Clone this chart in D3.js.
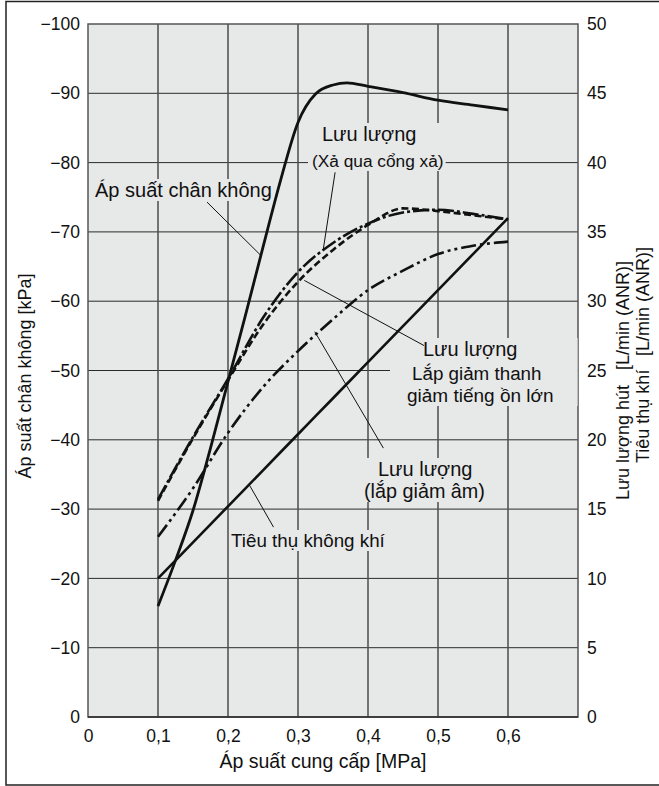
<!DOCTYPE html>
<html>
<head>
<meta charset="utf-8">
<script src="https://cdn.jsdelivr.net/npm/d3@7"></script>
<style>
  html, body { margin: 0; padding: 0; background: #fff; }
  svg { display: block; font-family: "Liberation Sans", Arial, Helvetica, sans-serif; }
  text { fill: #111; }
</style>
</head>
<body>
<svg id="chart" width="659" height="786"></svg>
<script>
// Supply pressure [MPa] at which the flow / consumption series are read
const supplyPressure = [0.1, 0.15, 0.2, 0.25, 0.3, 0.35, 0.4, 0.45, 0.5, 0.55, 0.6];

// Suction flow, exhausting through the exhaust port [L/min (ANR)]
const flowExhaustPort = [15.7, 20.2, 24.4, 28.8, 32.1, 34.2, 35.6, 36.4, 36.6, 36.3, 35.9];
// Suction flow with a high-noise-reduction silencer [L/min (ANR)]
const flowBigSilencer = [15.6, 20.1, 24.3, 28.3, 31.4, 33.7, 35.5, 36.7, 36.5, 36.2, 35.9];
// Suction flow with a silencer [L/min (ANR)]
const flowSilencer = [13.0, 16.5, 20.5, 23.8, 26.4, 28.7, 30.8, 32.2, 33.4, 34.0, 34.3];
// Air consumption [L/min (ANR)]
const airConsumption = [10.0, 12.6, 15.2, 17.8, 20.4, 23.0, 25.6, 28.2, 30.8, 33.4, 36.0];

// Vacuum pressure [kPa] is read on a finer pressure grid
const vacuumPressureX = [0.1, 0.125, 0.15, 0.175, 0.2, 0.225, 0.25, 0.275, 0.3, 0.325, 0.35, 0.37, 0.4, 0.45, 0.5, 0.55, 0.6];
const vacuumPressure = [-16, -22.6, -29.8, -38.8, -48.4, -58, -67.8, -77.4, -85.8, -89.9, -91.2, -91.5, -91, -90.1, -89, -88.3, -87.6];

// Axis ticks
const xTicks = [0, 0.1, 0.2, 0.3, 0.4, 0.5, 0.6];
const xGrid = [0.1, 0.2, 0.3, 0.4, 0.5, 0.6];
const leftTicks = [0, -10, -20, -30, -40, -50, -60, -70, -80, -90, -100];
const rightTicks = [0, 5, 10, 15, 20, 25, 30, 35, 40, 45, 50];

const svg = d3.select("#chart");
const plot = { left: 88, right: 578, top: 24, bottom: 717 };
const plotBg = "#e7e8e8";

const x = d3.scaleLinear().domain([0, 0.7]).range([plot.left, plot.right]);
const yL = d3.scaleLinear().domain([0, -100]).range([plot.bottom, plot.top]);
const yR = d3.scaleLinear().domain([0, 50]).range([plot.bottom, plot.top]);

// Outer frame (open on the right)
svg.append("path")
  .attr("d", "M 700 1.5 H 6 V 785 H 700")
  .attr("fill", "none").attr("stroke", "#222").attr("stroke-width", 1.5);

// Plot background
svg.append("rect")
  .attr("x", plot.left).attr("y", plot.top)
  .attr("width", plot.right - plot.left).attr("height", plot.bottom - plot.top)
  .attr("fill", plotBg);

const gridLayer = svg.append("g");
const boxLayer = svg.append("g");
const curveLayer = svg.append("g");
const leaderLayer = svg.append("g");
const textLayer = svg.append("g");

// Grid
gridLayer.selectAll("line.h").data(leftTicks.filter(d => d !== 0 && d !== -100)).join("line")
  .attr("x1", plot.left).attr("x2", plot.right)
  .attr("y1", d => yL(d)).attr("y2", d => yL(d))
  .attr("stroke", "#2b2b2b").attr("stroke-width", 1);
gridLayer.selectAll("line.v").data(xGrid).join("line")
  .attr("x1", d => x(d)).attr("x2", d => x(d))
  .attr("y1", plot.top).attr("y2", plot.bottom)
  .attr("stroke", "#4d4d4d").attr("stroke-width", 1.5);
gridLayer.append("rect")
  .attr("x", plot.left).attr("y", plot.top)
  .attr("width", plot.right - plot.left).attr("height", plot.bottom - plot.top)
  .attr("fill", "none").attr("stroke", "#555").attr("stroke-width", 1.5);
gridLayer.append("line")
  .attr("x1", plot.left).attr("x2", plot.right)
  .attr("y1", plot.bottom).attr("y2", plot.bottom)
  .attr("stroke", "#2b2b2b").attr("stroke-width", 1.3);

// Axes (labels only)
const tickFont = 17.5;
const minus = "\u2212";
const leftAxis = svg.append("g").attr("transform", `translate(${plot.left},0)`)
  .call(d3.axisLeft(yL).tickValues(leftTicks).tickSize(0).tickPadding(8)
    .tickFormat(d => d === 0 ? "0" : minus + Math.abs(d)));
const rightAxis = svg.append("g").attr("transform", `translate(${plot.right},0)`)
  .call(d3.axisRight(yR).tickValues(rightTicks).tickSize(0).tickPadding(9));
const bottomAxis = svg.append("g").attr("transform", `translate(0,${plot.bottom})`)
  .call(d3.axisBottom(x).tickValues(xTicks).tickSize(0).tickPadding(13)
    .tickFormat(d => d === 0 ? "0" : d.toFixed(1).replace(".", ",")));
[leftAxis, rightAxis, bottomAxis].forEach(g => {
  g.select(".domain").remove();
  g.selectAll("text").attr("font-size", tickFont).attr("font-family", null).attr("fill", "#111");
});

// Axis titles
svg.append("text")
  .attr("x", 323).attr("y", 768).attr("text-anchor", "middle")
  .attr("font-size", 19.5).text("Áp suất cung cấp [MPa]");
svg.append("text")
  .attr("transform", "translate(31,376) rotate(-90)").attr("text-anchor", "middle")
  .attr("font-size", 18).text("Áp suất chân không [kPa]");

const rightTitles = [
  { name: "Lưu lượng hút", unit: "[L/min (ANR)]", bx: 629, start: 500, end: 261 },
  { name: "Tiêu thụ khí", unit: "[L/min (ANR)]", bx: 649, start: 463, end: 247 }
];
rightTitles.forEach(t => {
  svg.append("text")
    .attr("transform", `translate(${t.bx},${t.start}) rotate(-90)`)
    .attr("font-size", 18).text(t.name);
  svg.append("text")
    .attr("transform", `translate(${t.bx},${t.end}) rotate(-90)`)
    .attr("text-anchor", "end")
    .attr("font-size", 18).text(t.unit);
});

// Curves
const lineR = d3.line().x(d => x(d[0])).y(d => yR(d[1])).curve(d3.curveMonotoneX);
const lineL = d3.line().x(d => x(d[0])).y(d => yL(d[1])).curve(d3.curveMonotoneX);
const zip = (xs, ys) => xs.map((v, i) => [v, ys[i]]);

const flowSeries = [
  { values: airConsumption, dash: null, width: 2.6 },
  { values: flowSilencer, dash: "15,4,3,4,3,4", width: 2.6 },
  { values: flowBigSilencer, dash: "7,3.5", width: 2.6 },
  { values: flowExhaustPort, dash: "16,3,3,3", width: 2.6 }
];
flowSeries.forEach(s => {
  curveLayer.append("path")
    .attr("d", lineR(zip(supplyPressure, s.values)))
    .attr("fill", "none").attr("stroke", "#111")
    .attr("stroke-width", s.width)
    .attr("stroke-dasharray", s.dash);
});
curveLayer.append("path")
  .attr("d", lineL(zip(vacuumPressureX, vacuumPressure)))
  .attr("fill", "none").attr("stroke", "#111").attr("stroke-width", 2.8);

// Leader lines: [from, to] in data units, with the axis they refer to
const leaders = [
  { y: yL, from: [0.170, -74.3], to: [0.246, -66.7] },
  { y: yR, from: [0.353, 39.3], to: [0.336, 33.7] },
  { y: yR, from: [0.48, 26.8], to: [0.309, 31.5] },
  { y: yR, from: [0.422, 19.4], to: [0.324, 27.8] },
  { y: yR, from: [0.265, 13.7], to: [0.231, 16.7] }
];
leaders.forEach(l => {
  leaderLayer.append("line")
    .attr("x1", x(l.from[0])).attr("y1", l.y(l.from[1]))
    .attr("x2", x(l.to[0])).attr("y2", l.y(l.to[1]))
    .attr("stroke", "#111").attr("stroke-width", 1);
});

// Curve labels, each drawn on a patch of plot background
const labels = [
  { lines: [{ t: "Áp suất chân không", x: 95, y: 197, s: 20 }], padL: 2, padR: 2 },
  { lines: [{ t: "Lưu lượng", x: 322, y: 141, s: 20 }, { t: "(Xả qua cổng xả)", x: 312, y: 167, s: 17.3 }], padL: 4, padR: 2 },
  { lines: [{ t: "Lưu lượng", x: 423, y: 356, s: 20 }, { t: "Lắp giảm thanh", x: 412, y: 380, s: 18.8 }, { t: "giảm tiếng ồn lớn", x: 407, y: 402, s: 19 }], padL: 17, padR: 24 },
  { lines: [{ t: "Lưu lượng", x: 378, y: 476, s: 20 }, { t: "(lắp giảm âm)", x: 364, y: 498, s: 19.8 }], padL: 2, padR: 2 },
  { lines: [{ t: "Tiêu thụ không khí", x: 231, y: 547, s: 18.8 }], padL: 2, padR: 2 }
];
labels.forEach(lab => {
  const g = textLayer.append("g");
  lab.lines.forEach(l => {
    g.append("text").attr("x", l.x).attr("y", l.y).attr("font-size", l.s).text(l.t);
  });
  const bb = g.node().getBBox();
  boxLayer.append("rect")
    .attr("x", bb.x - lab.padL).attr("y", bb.y)
    .attr("width", bb.width + lab.padL + lab.padR).attr("height", bb.height)
    .attr("fill", plotBg);
});
</script>
</body>
</html>
